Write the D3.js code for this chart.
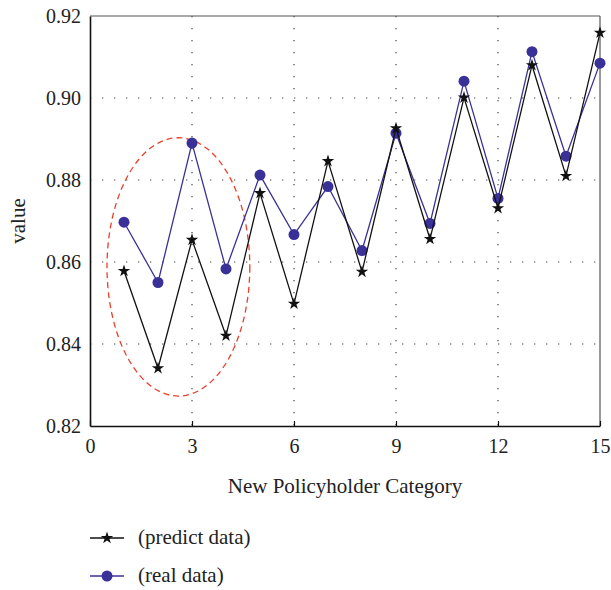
<!DOCTYPE html>
<html>
<head>
<meta charset="utf-8">
<script src="https://cdn.jsdelivr.net/npm/d3@7"></script>
<style>
  body { margin: 0; background: #fff; }
  text { font-family: "Liberation Serif", "DejaVu Serif", serif; fill: #222; }
</style>
</head>
<body>
<script>
// data
var categories = d3.range(1, 16);
var predictData = [0.8578, 0.8341, 0.8654, 0.8420, 0.8768, 0.8498, 0.8846, 0.8576,
                   0.8926, 0.8656, 0.9001, 0.8731, 0.9080, 0.8810, 0.9159];
var realData = [0.8697, 0.8550, 0.8890, 0.8583, 0.8812, 0.8667, 0.8784, 0.8628,
                0.8914, 0.8694, 0.9041, 0.8755, 0.9113, 0.8858, 0.9085];
var xTicks = [0, 3, 6, 9, 12, 15];
var yTicks = [0.82, 0.84, 0.86, 0.88, 0.90, 0.92];
var legendLabels = ["(predict data)", "(real data)"];
// highlighted region (data units): centre x, centre y, radius x, radius y
var highlight = [2.6, 0.8588, 2.1, 0.0315];

var W = 611, H = 590;
var margin = {left: 90, right: 11, top: 16, bottom: 164};

var svg = d3.select('body').append('svg')
  .attr('width', W)
  .attr('height', H);

var x = d3.scaleLinear().domain([0, 15]).range([margin.left, W - margin.right]);
var y = d3.scaleLinear().domain([0.82, 0.92]).range([H - margin.bottom, margin.top]);

var blue = '#3a3198';

// grids
var grid = svg.append('g').attr('class', 'grids');
grid.selectAll('.vg')
  .data(xTicks.filter(d => d > 0 && d < 15))
  .enter().append('line')
  .attr('x1', d => x(d)).attr('x2', d => x(d))
  .attr('y1', y(0.92)).attr('y2', y(0.82))
  .attr('stroke', '#444').attr('stroke-width', 1.2)
  .attr('stroke-dasharray', '1.3,10.7');
grid.selectAll('.hg')
  .data(yTicks.filter(d => d > 0.82 && d < 0.92))
  .enter().append('line')
  .attr('x1', x(0)).attr('x2', x(15))
  .attr('y1', d => y(d)).attr('y2', d => y(d))
  .attr('stroke', '#444').attr('stroke-width', 1.2)
  .attr('stroke-dasharray', '1.3,10.7');

// box top / right
svg.append('line')
  .attr('x1', x(0)).attr('x2', x(15)).attr('y1', y(0.92)).attr('y2', y(0.92))
  .attr('stroke', '#555').attr('stroke-width', 1.2);
svg.append('line')
  .attr('x1', x(15)).attr('x2', x(15)).attr('y1', y(0.92)).attr('y2', y(0.82))
  .attr('stroke', '#555').attr('stroke-width', 1.2);

// axes
var xAxis = d3.axisBottom(x).tickValues(xTicks).tickSizeInner(-5).tickSizeOuter(0)
  .tickFormat(d3.format('d'));
var gx = svg.append('g').attr('class', 'xAxis')
  .attr('transform', `translate(0,${y(0.82)})`)
  .call(xAxis);
gx.select('.domain').attr('stroke', '#111').attr('stroke-width', 1.6);
gx.selectAll('.tick line').attr('stroke', '#111').attr('stroke-width', 1.2);
gx.selectAll('.tick text').attr('font-size', 20).attr('dy', 0).attr('y', 27)
  .style('font-family', '"Liberation Serif", serif').attr('fill', '#222');

var yAxis = d3.axisLeft(y).tickValues(yTicks).tickSize(0)
  .tickFormat(d3.format('.2f'));
var gy = svg.append('g').attr('class', 'yAxis')
  .attr('transform', `translate(${x(0)},0)`)
  .call(yAxis);
gy.select('.domain').attr('stroke', '#111').attr('stroke-width', 1.6);
gy.selectAll('.tick text').attr('font-size', 20).attr('x', -9).attr('dy', '0.34em')
  .style('font-family', '"Liberation Serif", serif').attr('fill', '#222');

// axis titles
svg.append('text')
  .attr('x', 345).attr('y', 493)
  .attr('text-anchor', 'middle').attr('font-size', 21)
  .text('New Policyholder Category');
svg.append('text')
  .attr('transform', `translate(25,${(y(0.82) + y(0.92)) / 2}) rotate(-90)`)
  .attr('text-anchor', 'middle').attr('font-size', 21)
  .text('value');

// highlight ellipse
svg.append('ellipse')
  .attr('cx', x(highlight[0])).attr('cy', y(highlight[1]))
  .attr('rx', x(highlight[2]) - x(0)).attr('ry', y(0.82) - y(0.82 + highlight[3]))
  .attr('fill', 'none').attr('stroke', '#e8412b').attr('stroke-width', 1.3)
  .attr('stroke-dasharray', '6,4');

var star = d3.symbol().type(d3.symbolStar).size(48);
var dot = d3.symbol().type(d3.symbolCircle).size(95);

var line = d3.line().x(d => x(d[0])).y(d => y(d[1]));

// real data
var realPts = categories.map((c, i) => [c, realData[i]]);
svg.append('path').datum(realPts)
  .attr('d', line).attr('fill', 'none').attr('stroke', blue).attr('stroke-width', 1.3);
svg.selectAll('.real').data(realPts).enter().append('path')
  .attr('transform', d => `translate(${x(d[0])},${y(d[1])})`)
  .attr('d', dot).attr('fill', blue);

// predict data
var predPts = categories.map((c, i) => [c, predictData[i]]);
svg.append('path').datum(predPts)
  .attr('d', line).attr('fill', 'none').attr('stroke', '#111').attr('stroke-width', 1.3);
svg.selectAll('.pred').data(predPts).enter().append('path')
  .attr('transform', d => `translate(${x(d[0])},${y(d[1])})`)
  .attr('d', star).attr('fill', '#111');

// legend
var legend = svg.append('g').attr('class', 'legend');
var legendY = [538, 576];
legendLabels.forEach(function (lbl, i) {
  var col = i === 0 ? '#111' : blue;
  legend.append('line')
    .attr('x1', 90).attr('x2', 124).attr('y1', legendY[i]).attr('y2', legendY[i])
    .attr('stroke', col).attr('stroke-width', 1.3);
  legend.append('path')
    .attr('transform', `translate(107,${legendY[i]})`)
    .attr('d', i === 0 ? star : dot).attr('fill', col);
  legend.append('text')
    .attr('x', 138).attr('y', legendY[i] + 6).attr('font-size', 21)
    .text(lbl);
});
</script>
</body>
</html>
